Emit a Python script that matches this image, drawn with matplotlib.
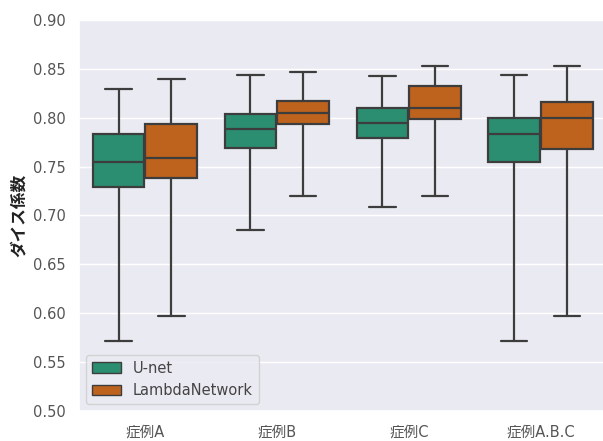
import matplotlib
matplotlib.use("Agg")
import matplotlib.pyplot as plt
import seaborn as sns
import numpy as np
from matplotlib.patches import Patch

sns.set_theme(style="darkgrid")
plt.rcParams['font.family'] = ['DejaVu Sans', 'Noto Sans CJK JP']

categories = ["症例A", "症例B", "症例C", "症例A.B.C"]
models = ["U-net", "LambdaNetwork"]

# five-number summaries per category: whislo, q1, med, q3, whishi
unet_low = [0.572, 0.685, 0.709, 0.572]
unet_q1 = [0.729, 0.769, 0.779, 0.755]
unet_med = [0.755, 0.788, 0.795, 0.783]
unet_q3 = [0.783, 0.804, 0.810, 0.800]
unet_high = [0.829, 0.844, 0.843, 0.844]

lambda_low = [0.597, 0.720, 0.720, 0.597]
lambda_q1 = [0.738, 0.793, 0.799, 0.768]
lambda_med = [0.759, 0.805, 0.810, 0.800]
lambda_q3 = [0.794, 0.817, 0.832, 0.816]
lambda_high = [0.839, 0.847, 0.853, 0.853]

series = [
    (unet_low, unet_q1, unet_med, unet_q3, unet_high),
    (lambda_low, lambda_q1, lambda_med, lambda_q3, lambda_high),
]

palette = [sns.desaturate(c, 0.75) for c in sns.color_palette("Dark2", 2)]
line_color = "#3d3d3d"

fig = plt.figure(figsize=(6.03, 4.41), dpi=100)
ax = fig.add_axes([0.131, 0.068, 0.875, 0.887])

n = len(models)
group_width = 0.8
box_w = group_width / n
for j, (lo, q1, med, q3, hi) in enumerate(series):
    stats = []
    for i in range(len(categories)):
        stats.append(dict(whislo=lo[i], q1=q1[i], med=med[i], q3=q3[i],
                          whishi=hi[i], fliers=[]))
    positions = np.arange(len(categories)) - group_width / 2 + box_w * (j + 0.5)
    ax.bxp(stats, positions=positions, widths=box_w * 0.98, patch_artist=True,
           showfliers=False,
           boxprops=dict(facecolor=palette[j], edgecolor=line_color, linewidth=1.6),
           medianprops=dict(color=line_color, linewidth=1.6),
           whiskerprops=dict(color=line_color, linewidth=1.6),
           capprops=dict(color=line_color, linewidth=1.6),
           capwidths=box_w * 0.5)

ax.set_xlim(-0.5, len(categories) - 0.5)
ax.set_ylim(0.50, 0.90)
ax.set_yticks(np.arange(0.50, 0.901, 0.05))
ax.set_yticklabels([f"{v:.2f}" for v in np.arange(0.50, 0.901, 0.05)])
ax.set_xticks(np.arange(len(categories)))
ax.set_xticklabels(categories)
ax.grid(False, axis="x")
ax.tick_params(axis="both", labelsize=10.5, labelcolor="#555555")
ax.set_ylabel("ダイス係数", fontsize=12, color="#222222", fontweight="bold")

handles = [Patch(facecolor=palette[k], edgecolor=line_color, label=m)
           for k, m in enumerate(models)]
ax.legend(handles=handles, loc="lower left", fontsize=10.5, labelcolor="#444444")

fig.savefig("out.png", dpi=100)
